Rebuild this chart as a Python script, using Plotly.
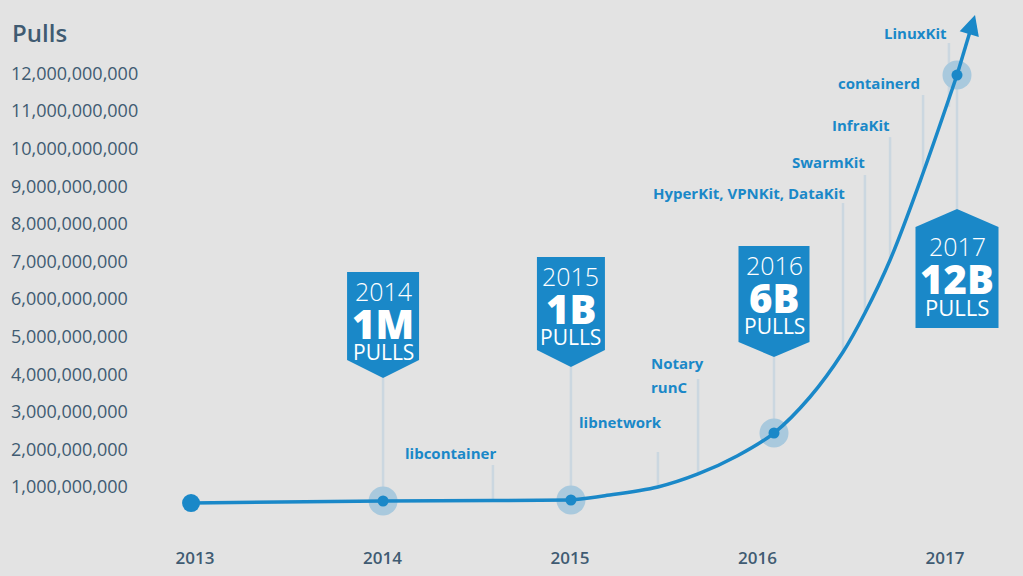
import math
import plotly.graph_objects as go

# ---------------- data ----------------
year_ticks = [2013, 2014, 2015, 2016, 2017]
pull_ticks_b = [1, 2, 3, 4, 5, 6, 7, 8, 9, 10, 11, 12]  # billions

curve_years = [2012.979, 2014.003, 2014.589, 2015.005, 2015.176, 2015.469, 2015.683, 2015.891,
               2016.088, 2016.280, 2016.456, 2016.573, 2016.707, 2016.883, 2017.064]
curve_pulls_b = [0.574, 0.628, 0.641, 0.654, 0.761, 1.000, 1.346, 1.824,
                 2.436, 3.394, 4.590, 5.628, 7.037, 9.351, 11.957]
arrow_tip_year = 2017.160
arrow_tip_b = 13.553
flat_end_idx = 3  # the line is straight up to 2015, then curves upward

badge_point_idx = [1, 3, 8, 14]
badge_years = ["2014", "2015", "2016", "2017"]
badge_values = ["1M", "1B", "6B", "12B"]

milestones = ["libcontainer", "libnetwork", "runC", "Notary", "HyperKit, VPNKit, DataKit",
              "SwarmKit", "InfraKit", "containerd", "LinuxKit"]
milestone_line_year = [2014.589, 2015.469, 2015.683, None, 2016.456, 2016.573, 2016.707, 2016.883, 2017.021]
milestone_line_top_b = [1.585, 1.931, 3.873, None, 8.553, 9.298, 10.306, 11.426, 12.809]
milestone_line_bottom_b = [0.641, 1.000, 1.346, None, 4.590, 5.628, 7.037, 9.351, 11.110]

# ---------------- layout geometry (pixels) ----------------
W, H = 1023, 576
X0_PX, X_PER_YEAR = 195.0, 187.5
Y0_PX, Y_PER_B = 524.6, 37.6


def xd(px):
    return 2013 + (px - X0_PX) / X_PER_YEAR


def yd(py):
    return (Y0_PX - py) / Y_PER_B * 1e9


def xp(year):
    return X0_PX + (year - 2013) * X_PER_YEAR


def yp(val):
    return Y0_PX - val / 1e9 * Y_PER_B


B = 1e9
BLUE = "#1a88c8"
HALO = "#a9c9dd"
CONN = "#cbd7e0"
TXT = "#405b72"
BG = "#e3e3e3"
FONT = "Open Sans"

fig = go.Figure()

# connector lines (badges + milestones)
cx, cy = [], []
badge_geom = [  # width, rect top, rect bottom, tip (pixel)
    dict(w=72, top=272, bottom=360, tip=378, up=False),
    dict(w=68, top=257, bottom=350, tip=367, up=False),
    dict(w=71, top=246, bottom=342, tip=357, up=False),
    dict(w=83, top=227, bottom=328, tip=209, up=True),
]
for i, g in zip(badge_point_idx, badge_geom):
    x = curve_years[i]
    cx += [x, x, None]
    cy += [curve_pulls_b[i] * B, yd(g["tip"]), None]
for x, t, b in zip(milestone_line_year, milestone_line_top_b, milestone_line_bottom_b):
    if x is None:
        continue
    cx += [x, x, None]
    cy += [b * B, t * B, None]
fig.add_trace(go.Scatter(x=cx, y=cy, mode="lines", line=dict(color=CONN, width=2.5),
                         hoverinfo="skip", showlegend=False))

# halos
fig.add_trace(go.Scatter(x=[curve_years[i] for i in badge_point_idx],
                         y=[curve_pulls_b[i] * B for i in badge_point_idx],
                         mode="markers", marker=dict(size=29, color=HALO),
                         hoverinfo="skip", showlegend=False))

# curve: straight part, then smooth rise
fig.add_trace(go.Scatter(x=curve_years[:flat_end_idx + 1],
                         y=[v * B for v in curve_pulls_b[:flat_end_idx + 1]], mode="lines",
                         line=dict(color=BLUE, width=3.5, shape="spline", smoothing=0.3),
                         hoverinfo="skip", showlegend=False))
fig.add_trace(go.Scatter(x=curve_years[flat_end_idx:],
                         y=[v * B for v in curve_pulls_b[flat_end_idx:]], mode="lines",
                         line=dict(color=BLUE, width=3.5, shape="spline", smoothing=1.0),
                         hoverinfo="skip", showlegend=False))

# arrow shaft + head (head computed from the last curve point and the tip, in pixels)
sx, sy = xp(curve_years[-1]), yp(curve_pulls_b[-1] * B)
tx, ty = xp(arrow_tip_year), yp(arrow_tip_b * B)
L = math.hypot(tx - sx, ty - sy)
ux, uy = (tx - sx) / L, (ty - sy) / L
nx, ny = -uy, ux
HEAD_LEN, HEAD_HALF = 20, 10
bx, by = tx - HEAD_LEN * ux, ty - HEAD_LEN * uy
ex, ey = tx - (HEAD_LEN - 4) * ux, ty - (HEAD_LEN - 4) * uy
fig.add_trace(go.Scatter(x=[curve_years[-1], xd(ex)], y=[curve_pulls_b[-1] * B, yd(ey)],
                         mode="lines", line=dict(color=BLUE, width=3.5),
                         hoverinfo="skip", showlegend=False))
head = [(tx, ty), (bx + HEAD_HALF * nx, by + HEAD_HALF * ny), (bx - HEAD_HALF * nx, by - HEAD_HALF * ny)]
shapes = [dict(type="path", xref="x", yref="y", fillcolor=BLUE, line=dict(width=0), layer="above",
               path="M " + " L ".join(f"{xd(a)},{yd(b)}" for a, b in head) + " Z")]

# dots
fig.add_trace(go.Scatter(x=[curve_years[0]], y=[curve_pulls_b[0] * B], mode="markers",
                         marker=dict(size=18, color=BLUE), hoverinfo="skip", showlegend=False))
fig.add_trace(go.Scatter(x=[curve_years[i] for i in badge_point_idx],
                         y=[curve_pulls_b[i] * B for i in badge_point_idx],
                         mode="markers", marker=dict(size=11, color=BLUE),
                         hoverinfo="skip", showlegend=False))

# badges
annotations = []
for i, g, yr, val in zip(badge_point_idx, badge_geom, badge_years, badge_values):
    cxp = xp(curve_years[i])
    l, r = cxp - g["w"] / 2, cxp + g["w"] / 2
    if g["up"]:
        pts = [(l, g["top"]), (cxp, g["tip"]), (r, g["top"]), (r, g["bottom"]), (l, g["bottom"])]
    else:
        pts = [(l, g["top"]), (r, g["top"]), (r, g["bottom"]), (cxp, g["tip"]), (l, g["bottom"])]
    path = "M " + " L ".join(f"{xd(a)},{yd(b)}" for a, b in pts) + " Z"
    shapes.append(dict(type="path", path=path, xref="x", yref="y", fillcolor=BLUE,
                       line=dict(width=0), layer="above"))
    annotations += [
        dict(x=xd(cxp), y=yd(g["top"] + 19), text=yr, showarrow=False, xref="x", yref="y",
             font=dict(family=FONT, size=25, color="white", weight=300)),
        dict(x=xd(cxp), y=yd(g["top"] + 51), text=val, showarrow=False, xref="x", yref="y",
             font=dict(family=FONT, size=40, color="white", weight=800)),
        dict(x=xd(cxp), y=yd(g["top"] + 80), text="PULLS", showarrow=False, xref="x", yref="y",
             font=dict(family=FONT, size=21 if not g["up"] else 22, color="white", weight=400)),
    ]

# milestone labels (pixel anchor: x, y, xanchor)
label_pos = [(498, 453, "right"), (664, 422, "right"), (649, 387, "left"), (649, 363, "left"),
             (847, 193, "right"), (867, 162, "right"), (892, 125, "right"), (922, 83, "right"),
             (949, 33, "right")]
for name, (px_, py_, anc) in zip(milestones, label_pos):
    annotations.append(dict(x=xd(px_), y=yd(py_), text=name, showarrow=False, xref="x", yref="y",
                            xanchor=anc, yanchor="middle",
                            font=dict(family=FONT, size=15, color=BLUE, weight=700)))

annotations.append(dict(x=10 / W, y=1 - 32 / H, xref="paper", yref="paper", text="Pulls",
                        showarrow=False, xanchor="left", yanchor="middle",
                        font=dict(family=FONT, size=24, color=TXT, weight=600)))

fig.update_layout(
    width=W, height=H, autosize=False,
    margin=dict(l=0, r=0, t=0, b=0),
    paper_bgcolor=BG, plot_bgcolor=BG,
    shapes=shapes, annotations=annotations,
    xaxis=dict(range=[xd(0), xd(W)], showgrid=False, zeroline=False, showline=False,
               tickvals=year_ticks, ticktext=[str(y) for y in year_ticks],
               ticks="", ticklabelposition="inside", ticklabelstandoff=6,
               tickfont=dict(family=FONT, size=17, color=TXT, weight=600)),
    yaxis=dict(range=[yd(H), yd(0)], showgrid=False, zeroline=False, showline=False,
               tickvals=[v * B for v in pull_ticks_b], tickformat=",d",
               ticks="", ticklabelposition="inside", ticklabelstandoff=8,
               tickfont=dict(family=FONT, size=18, color=TXT)),
    showlegend=False,
)

fig.write_html("out.html")
